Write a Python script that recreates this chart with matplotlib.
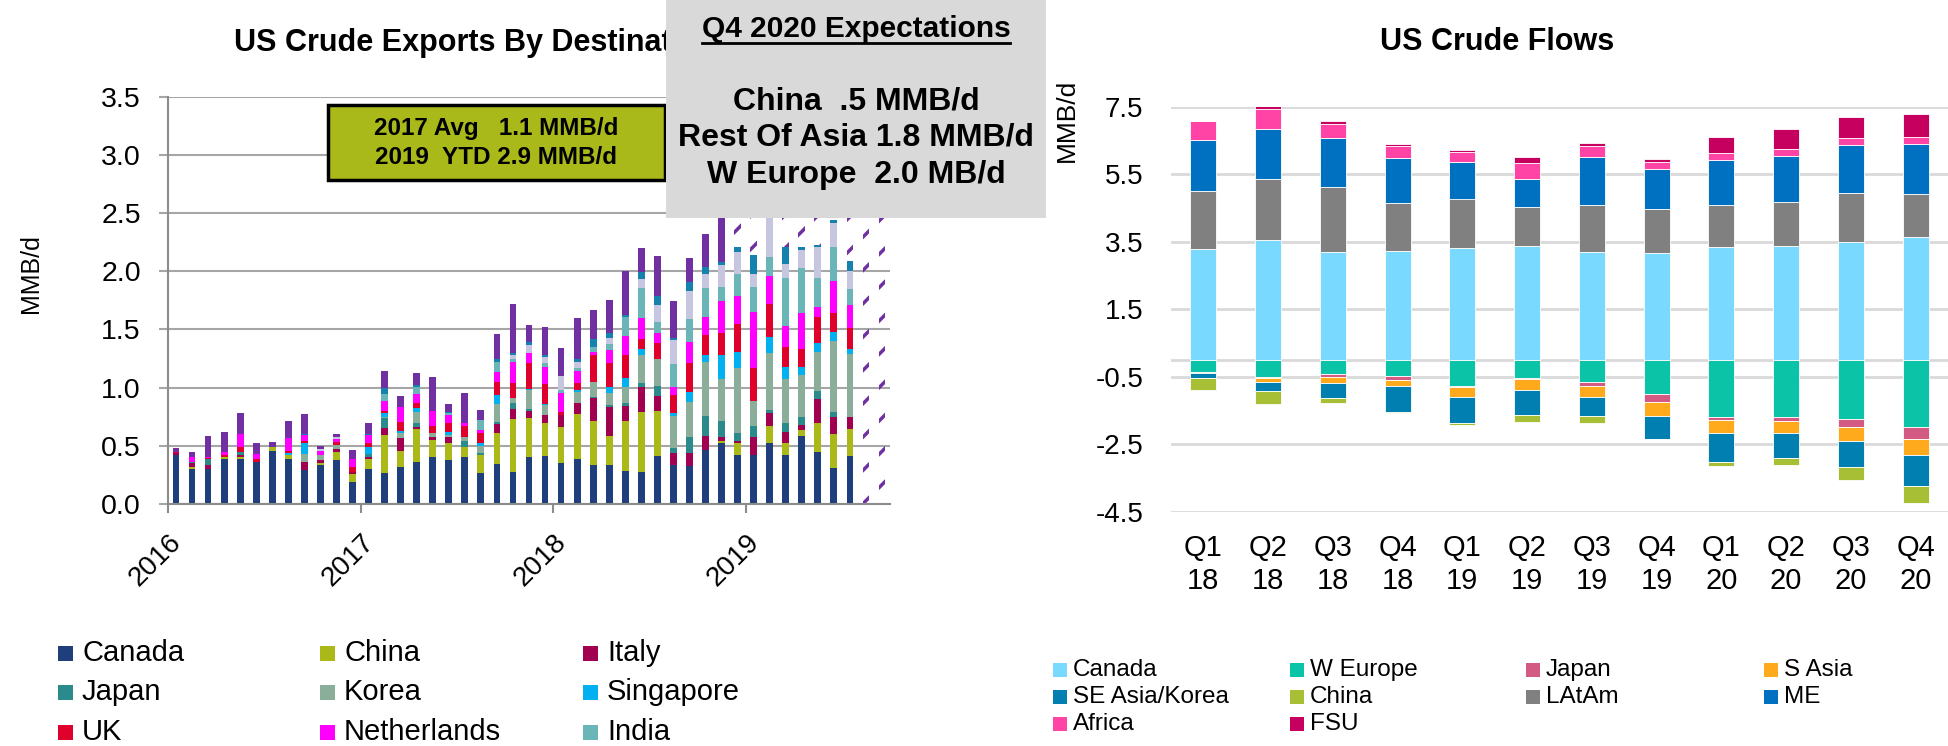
import numpy as np
import matplotlib.pyplot as plt
from matplotlib.patches import Rectangle
from matplotlib.lines import Line2D
from matplotlib import transforms

plt.rcParams['font.family'] = ['Liberation Sans', 'DejaVu Sans']
plt.rcParams['hatch.linewidth'] = 2.5

W, H = 1948, 746


def fx(x):
    return x / W


def fy(y):
    return 1 - y / H


# ---- monthly exports by destination, Jan 2016 - Sep 2019 (MMB/d) ----
year_labels = ['2016', '2017', '2018', '2019']

canada = [0.42, 0.30, 0.30, 0.387, 0.387, 0.364, 0.455, 0.387, 0.295, 0.338, 0.378, 0.19,
          0.30, 0.27, 0.32, 0.358, 0.407, 0.378, 0.407, 0.27, 0.344, 0.278, 0.407, 0.412,
          0.349, 0.387, 0.335, 0.335, 0.283, 0.278, 0.415, 0.335, 0.326, 0.464, 0.527, 0.42,
          0.42, 0.521, 0.42, 0.584, 0.45, 0.306, 0.415, 0, 0]
china = [0, 0.02, 0, 0.013, 0.013, 0, 0.035, 0.033, 0, 0.017, 0.072, 0.065,
         0.084, 0.323, 0.138, 0.286, 0.143, 0.149, 0.083, 0.15, 0.266, 0.449, 0.329, 0.288,
         0.315, 0.383, 0.378, 0.249, 0.43, 0.51, 0.385, 0, 0, 0, 0.015, 0.10,
         0, 0.149, 0.10, 0.056, 0.25, 0.294, 0.229, 0, 0]
italy = [0.015, 0.035, 0.035, 0, 0.02, 0, 0, 0, 0.069, 0.023, 0.022, 0.023,
         0.016, 0.063, 0.106, 0.02, 0.023, 0.046, 0, 0, 0.08, 0.093, 0.064, 0.065,
         0.10, 0.095, 0.195, 0.246, 0.129, 0.22, 0.128, 0.10, 0.109, 0.12, 0.036, 0.024,
         0.158, 0.115, 0.10, 0.04, 0.20, 0.15, 0.106, 0, 0]
japan = [0, 0.01, 0.05, 0, 0.03, 0, 0, 0, 0, 0, 0, 0,
         0.03, 0.08, 0, 0.036, 0, 0, 0.054, 0.02, 0.017, 0.045, 0.02, 0,
         0, 0, 0.014, 0.02, 0.028, 0.034, 0.086, 0.043, 0.143, 0.172, 0.138, 0.069,
         0.092, 0.023, 0.08, 0.07, 0.074, 0.043, 0, 0, 0]
korea = [0, 0, 0, 0, 0, 0, 0, 0, 0.063, 0.042, 0.035, 0,
         0, 0.01, 0.043, 0.093, 0.04, 0.02, 0.029, 0.06, 0.153, 0.043, 0.16, 0.085,
         0, 0.10, 0.128, 0.106, 0.132, 0.238, 0.229, 0.278, 0.295, 0.467, 0.355, 0.552,
         0.218, 0.492, 0.371, 0.358, 0.335, 0.607, 0.539, 0, 0]
singapore = [0, 0, 0, 0, 0, 0, 0, 0.015, 0.093, 0, 0, 0,
             0.06, 0.034, 0.023, 0.035, 0, 0.027, 0, 0.02, 0.076, 0, 0.005, 0.01,
             0, 0.015, 0, 0.046, 0.083, 0.049, 0, 0.029, 0.092, 0.057, 0.209, 0.144,
             0, 0.138, 0.103, 0.072, 0.077, 0.08, 0.04, 0, 0]
uk = [0.015, 0, 0.01, 0.018, 0.04, 0.02, 0, 0.02, 0.02, 0, 0.029, 0.037,
      0.03, 0.02, 0.077, 0.037, 0.06, 0.08, 0.097, 0.087, 0.114, 0.129, 0.223, 0.17,
      0.029, 0.06, 0.23, 0.212, 0.195, 0.086, 0.143, 0.151, 0.243, 0.172, 0.186, 0.237,
      0.278, 0.28, 0.176, 0.149, 0.218, 0.164, 0.18, 0, 0]
netherlands = [0, 0.04, 0.013, 0.032, 0.11, 0.048, 0, 0.109, 0.05, 0.038, 0.02, 0.069,
               0.07, 0.088, 0.129, 0.08, 0.127, 0.065, 0.03, 0.033, 0.087, 0.186, 0.086, 0.144,
               0.157, 0.105, 0.03, 0.109, 0.163, 0.18, 0.08, 0.072, 0.187, 0.152, 0.281, 0.241,
               0.486, 0.241, 0.18, 0.309, 0.091, 0.272, 0.201, 0, 0]
india = [0, 0, 0, 0, 0, 0, 0, 0, 0, 0, 0, 0,
         0, 0.057, 0, 0.057, 0, 0.015, 0, 0.08, 0.086, 0.02, 0, 0.034,
         0.029, 0.02, 0.04, 0.05, 0.167, 0.263, 0.10, 0.195, 0.191, 0.254, 0.114, 0.189,
         0.215, 0.166, 0.41, 0.387, 0.249, 0.289, 0.137, 0, 0]
other_1 = [0, 0, 0, 0, 0, 0, 0, 0, 0, 0.012, 0.017, 0,
           0, 0, 0, 0, 0, 0, 0, 0, 0, 0.037, 0.072, 0.058,
           0.121, 0.052, 0, 0.05, 0, 0.072, 0.144, 0.206, 0.244, 0.122, 0.192, 0.192,
           0.109, 0.42, 0.12, 0.157, 0.266, 0.212, 0.158, 0, 0]
other_2 = [0, 0, 0, 0, 0, 0, 0, 0, 0.01, 0, 0, 0,
           0.015, 0.049, 0, 0.02, 0, 0.013, 0, 0, 0.02, 0.02, 0.029, 0.014,
           0, 0.026, 0.07, 0.043, 0.014, 0.066, 0.077, 0.014, 0.074, 0.053, 0.029, 0.042,
           0.164, 0.05, 0.15, 0.028, 0.015, 0.023, 0.083, 0, 0]
other_rest = [0.03, 0.045, 0.18, 0.166, 0.18, 0.088, 0.04, 0.152, 0.17, 0.028, 0.027, 0.08,
              0.095, 0.149, 0.092, 0.101, 0.294, 0.067, 0.25, 0.09, 0.217, 0.415, 0.143, 0.238,
              0.237, 0.357, 0.247, 0.287, 0.376, 0.20, 0.346, 0.324, 0.206, 0.287, 0.65, 0,
              0, 0, 0, 0, 0, 0, 0, 0, 0]
# estimated remainder for the latest months (drawn hatched)
other_est = [0] * 35 + [0.6, 0.75, 0.33, 0.7, 0.67, 0.65, 0.5, 0.8, 2.9, 2.9]

left_series = [
    ('Canada', canada, '#1E3F7B'),
    ('China', china, '#AAB918'),
    ('Italy', italy, '#A10050'),
    ('Japan', japan, '#2A8A8C'),
    ('Korea', korea, '#8BAE9A'),
    ('Singapore', singapore, '#00B0F0'),
    ('UK', uk, '#DF002C'),
    ('Netherlands', netherlands, '#FF00FF'),
    ('India', india, '#6AB5B8'),
    (None, other_1, '#C6C6E0'),
    (None, other_2, '#1582AE'),
    (None, other_rest, '#7130A1'),
]

# ---- quarterly flows (MMB/d) ----
quarters = ['Q1\n18', 'Q2\n18', 'Q3\n18', 'Q4\n18',
            'Q1\n19', 'Q2\n19', 'Q3\n19', 'Q4\n19',
            'Q1\n20', 'Q2\n20', 'Q3\n20', 'Q4\n20']
flow_canada = [3.27, 3.55, 3.19, 3.22, 3.30, 3.37, 3.20, 3.17, 3.35, 3.38, 3.50, 3.64]
flow_latam = [1.73, 1.81, 1.92, 1.42, 1.48, 1.15, 1.40, 1.29, 1.23, 1.29, 1.43, 1.26]
flow_me = [1.51, 1.49, 1.46, 1.33, 1.09, 0.83, 1.40, 1.19, 1.34, 1.38, 1.43, 1.48]
flow_africa = [0.56, 0.58, 0.43, 0.36, 0.28, 0.47, 0.33, 0.22, 0.22, 0.21, 0.21, 0.22]
flow_fsu = [0, 0.09, 0.09, 0.06, 0.06, 0.18, 0.08, 0.08, 0.47, 0.59, 0.63, 0.68]
flow_weurope = [-0.35, -0.50, -0.42, -0.47, -0.78, -0.53, -0.67, -1.02, -1.70, -1.70, -1.76, -2.00]
flow_japan = [0, -0.03, -0.08, -0.13, -0.04, -0.05, -0.11, -0.23, -0.08, -0.10, -0.22, -0.34]
flow_sasia = [-0.04, -0.14, -0.18, -0.18, -0.28, -0.32, -0.32, -0.40, -0.40, -0.38, -0.44, -0.48]
flow_seasia = [-0.14, -0.26, -0.46, -0.76, -0.76, -0.74, -0.57, -0.71, -0.86, -0.74, -0.77, -0.92]
flow_china = [-0.37, -0.39, -0.13, -0.05, -0.07, -0.19, -0.19, 0, -0.10, -0.20, -0.37, -0.49]
flow_ticks = [-4.5, -2.5, -0.5, 1.5, 3.5, 5.5, 7.5]

flows = {
    'Canada': (flow_canada, '#79D9FF'),
    'W Europe': (flow_weurope, '#0BC4A7'),
    'Japan': (flow_japan, '#D35A82'),
    'S Asia': (flow_sasia, '#FFAA1C'),
    'SE Asia/Korea': (flow_seasia, '#007FB0'),
    'China': (flow_china, '#A6BF34'),
    'LAtAm': (flow_latam, '#808080'),
    'ME': (flow_me, '#0070C0'),
    'Africa': (flow_africa, '#FF44A6'),
    'FSU': (flow_fsu, '#C5005E'),
}
positive_order = ['Canada', 'LAtAm', 'ME', 'Africa', 'FSU']
negative_order = ['W Europe', 'Japan', 'S Asia', 'SE Asia/Korea', 'China']

fig = plt.figure(figsize=(W / 100, H / 100), dpi=100)

# ================= left: exports by destination =================
ax1 = fig.add_axes([fx(168), fy(504), (890 - 168) / W, (504 - 96.7) / H])
x = np.arange(len(canada))
bottom = np.zeros(len(x))
for name, vals, color in left_series:
    vals = np.array(vals)
    ax1.bar(x, vals, 0.42, bottom=bottom, color=color, linewidth=0, zorder=2)
    bottom += vals
ax1.bar(x, other_est, 0.42, bottom=bottom, facecolor='none', edgecolor='#7130A1',
        hatch='/', linewidth=0, zorder=2)

ax1.set_xlim(-0.5, len(x) - 0.5)
ax1.set_ylim(0, 3.5)
ax1.set_yticks(np.arange(0, 3.51, 0.5))
ax1.set_yticklabels([f'{v:.1f}' for v in np.arange(0, 3.51, 0.5)], fontsize=20.5)
ax1.grid(axis='y', color='#A6A6A6', linewidth=1.5, zorder=0)
ax1.set_axisbelow(True)
for side in ['top', 'right']:
    ax1.spines[side].set_visible(False)
for side in ['left', 'bottom']:
    ax1.spines[side].set_color('#8C8C8C')
    ax1.spines[side].set_linewidth(1.5)
ax1.tick_params(axis='y', length=6.5, width=1.5, color='#A6A6A6', pad=13)
ax1.set_xticks(np.arange(len(year_labels)) * 12 - 0.5)
ax1.set_xticklabels(year_labels, fontsize=20, rotation=45, rotation_mode='anchor',
                    ha='right', va='center')
ax1.tick_params(axis='x', length=6.5, width=1.5, color='#8C8C8C', pad=18)
shift = transforms.ScaledTranslation(9.5 / 100, 0, fig.dpi_scale_trans)
for lab in ax1.get_xticklabels():
    lab.set_transform(lab.get_transform() + shift)

fig.text(fx(31), fy(274), 'MMB/d', rotation=90, ha='center', va='center', fontsize=18)
fig.text(fx(234), fy(43), 'US Crude Exports By Destination', ha='left', va='center',
         fontsize=22, fontweight='bold', zorder=3)

# annotation: averages
fig.add_artist(Rectangle((fx(328), fy(180)), (665 - 328) / W, (180 - 105) / H,
                         transform=fig.transFigure, facecolor='#AAB91A',
                         edgecolor='black', linewidth=2.5, zorder=5))
fig.text(fx(496), fy(128), '2017 Avg   1.1 MMB/d', ha='center', va='center',
         fontsize=17.5, fontweight='bold', zorder=6)
fig.text(fx(496), fy(157), '2019  YTD 2.9 MMB/d', ha='center', va='center',
         fontsize=17.5, fontweight='bold', zorder=6)

# annotation: expectations panel
fig.add_artist(Rectangle((fx(666), fy(218)), (1046 - 666) / W, 218 / H,
                         transform=fig.transFigure, facecolor='#D9D9D9',
                         linewidth=0, zorder=5))
head = fig.text(fx(856), fy(29), 'Q4 2020 Expectations', ha='center', va='center',
                fontsize=21.5, fontweight='bold', zorder=6)
expect_lines = ['China  .5 MMB/d', 'Rest Of Asia 1.8 MMB/d', 'W Europe  2.0 MB/d']
for yy, txt in zip([102, 138, 175], expect_lines):
    fig.text(fx(856), fy(yy), txt, ha='center', va='center', fontsize=23,
             fontweight='bold', zorder=6)

# ================= right: quarterly flows =================
ax2 = fig.add_axes([fx(1171), fy(511.7), (1948 - 1171) / W, (511.7 - 106.7) / H])
q = np.arange(len(quarters))
pos = np.zeros(len(q))
for name in positive_order:
    vals, color = flows[name]
    vals = np.array(vals)
    ax2.bar(q, vals, 0.4, bottom=pos, color=color, edgecolor='white', linewidth=0.6, zorder=2)
    pos += vals
neg = np.zeros(len(q))
for name in negative_order:
    vals, color = flows[name]
    vals = np.array(vals)
    ax2.bar(q, vals, 0.4, bottom=neg, color=color, edgecolor='white', linewidth=0.6, zorder=2)
    neg += vals

ax2.set_xlim(-0.5, len(q) - 0.5)
ax2.set_ylim(-4.5, 7.5)
ax2.set_yticks(flow_ticks)
ax2.set_yticklabels([f'{v:.1f}' for v in flow_ticks], fontsize=20)
ax2.set_xticks(q)
ax2.set_xticklabels(quarters, fontsize=21)
for lab in ax2.get_xticklabels():
    lab.set_linespacing(1.25)
ax2.tick_params(axis='both', length=0)
ax2.tick_params(axis='y', pad=20)
ax2.tick_params(axis='x', pad=16)
ax2.grid(axis='y', color='#D9D9D9', linewidth=2, zorder=0)
ax2.axhline(0, color='#D9D9D9', linewidth=2, zorder=0)
ax2.set_axisbelow(True)
for side in ax2.spines:
    ax2.spines[side].set_visible(False)

fig.text(fx(1067), fy(120), 'MMB/d', rotation=90, ha='center', va='center', fontsize=19)
fig.text(fx(1497), fy(42), 'US Crude Flows', ha='center', va='center',
         fontsize=22, fontweight='bold')


# ================= legends =================
def legend_key(x, y, color, label, box, gap, size):
    fig.add_artist(Rectangle((fx(x), fy(y + box / 2)), box / W, box / H,
                             transform=fig.transFigure, facecolor=color, linewidth=0))
    fig.text(fx(x + box + gap), fy(y), label, ha='left', va='center', fontsize=size)


left_cols = [58, 320, 583]
left_rows = [653, 692, 732]
for k, (name, vals, color) in enumerate(left_series[:9]):
    legend_key(left_cols[k % 3], left_rows[k // 3], color, name, 15, 9, 21)

right_legend = ['Canada', 'W Europe', 'Japan', 'S Asia',
                'SE Asia/Korea', 'China', 'LAtAm', 'ME',
                'Africa', 'FSU']
right_cols = [1053, 1290, 1526, 1764]
right_rows = [670, 697, 724]
for k, name in enumerate(right_legend):
    legend_key(right_cols[k % 4], right_rows[k // 4], flows[name][1], name, 14, 6, 17.5)

# underline for the expectations heading
fig.canvas.draw()
bb = head.get_window_extent()
fig.add_artist(Line2D([bb.x0 / W, bb.x1 / W], [fy(43), fy(43)], transform=fig.transFigure,
                      color='black', linewidth=2, zorder=6))

fig.savefig('out.png', dpi=100)
